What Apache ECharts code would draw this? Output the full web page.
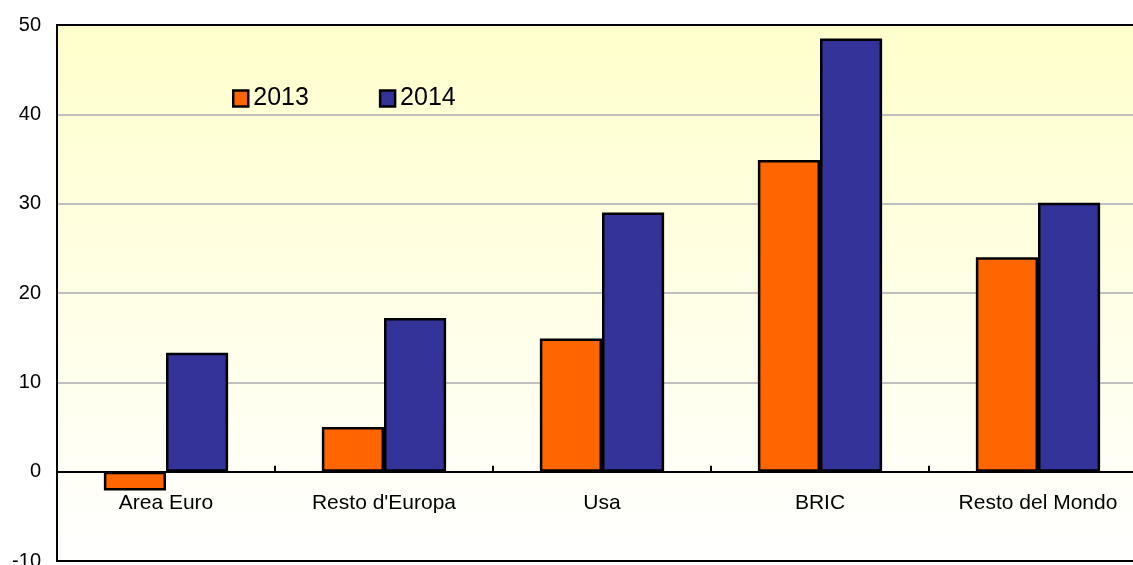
<!DOCTYPE html>
<html><head><meta charset="utf-8">
<script src="https://cdn.jsdelivr.net/npm/echarts@6/dist/echarts.min.js"></script>
<style>html,body{margin:0;padding:0;background:#fff}#c{width:1133px;height:565px}</style>
</head><body><div id="c"></div>
<script>
const categories = ['Area Euro', "Resto d'Europa", 'Usa', 'BRIC', 'Resto del Mondo'];
const seriesNames = ['2013', '2014'];
const values2013 = [-2.1, 5.0, 14.9, 34.9, 24.0];
const values2014 = [13.3, 17.2, 29.0, 48.5, 30.1];
const yTicks = { min: -10, max: 50, interval: 10 };

const FONT = "'Liberation Sans', Arial, sans-serif";
const chart = echarts.init(document.getElementById('c'), null, { renderer: 'canvas' });
const barStyle = (color) => ({ color: color, borderColor: '#000', borderWidth: 2.5 });
chart.setOption({
  animation: false,
  backgroundColor: '#fff',
  textStyle: { fontFamily: FONT },
  grid: {
    left: 57, top: 25, width: 1090, height: 536,
    outerBoundsMode: 'none',
    containLabel: false,
    show: true,
    borderColor: '#000', borderWidth: 2,
    backgroundColor: new echarts.graphic.LinearGradient(0, 0, 0, 1, [
      { offset: 0, color: '#FFFFCC' },
      { offset: 1, color: '#FFFFFF' }
    ])
  },
  legend: {
    left: 232, top: 86, padding: 0,
    itemWidth: 15, itemHeight: 16, itemGap: 70,
    icon: 'rect',
    itemStyle: { borderColor: '#000', borderWidth: 2.5 },
    textStyle: { fontSize: 25, color: '#000', fontFamily: FONT },
    data: seriesNames
  },
  xAxis: {
    type: 'category',
    data: categories,
    axisLine: { onZero: true, lineStyle: { color: '#000', width: 2 } },
    axisTick: { show: true, inside: true, length: 6, interval: 0, lineStyle: { color: '#000', width: 2 } },
    axisLabel: { fontSize: 21, color: '#000', fontFamily: FONT, margin: -68, interval: 0 }
  },
  yAxis: {
    type: 'value',
    min: yTicks.min, max: yTicks.max, interval: yTicks.interval,
    axisLine: { show: true, lineStyle: { color: '#000', width: 2 } },
    axisTick: { show: false },
    axisLabel: { fontSize: 20, color: '#000', fontFamily: FONT, margin: 16 },
    splitLine: { show: true, lineStyle: { color: ['#000', '#000', '#C0C0C0', '#C0C0C0', '#C0C0C0', '#C0C0C0', '#000'], width: 2 } }
  },
  series: [
    { name: seriesNames[0], type: 'bar', data: values2013, barGap: '0%', barCategoryGap: '43%', itemStyle: barStyle('#FF6600') },
    { name: seriesNames[1], type: 'bar', data: values2014, barGap: '0%', barCategoryGap: '43%', itemStyle: barStyle('#333399') }
  ]
});
</script></body></html>
